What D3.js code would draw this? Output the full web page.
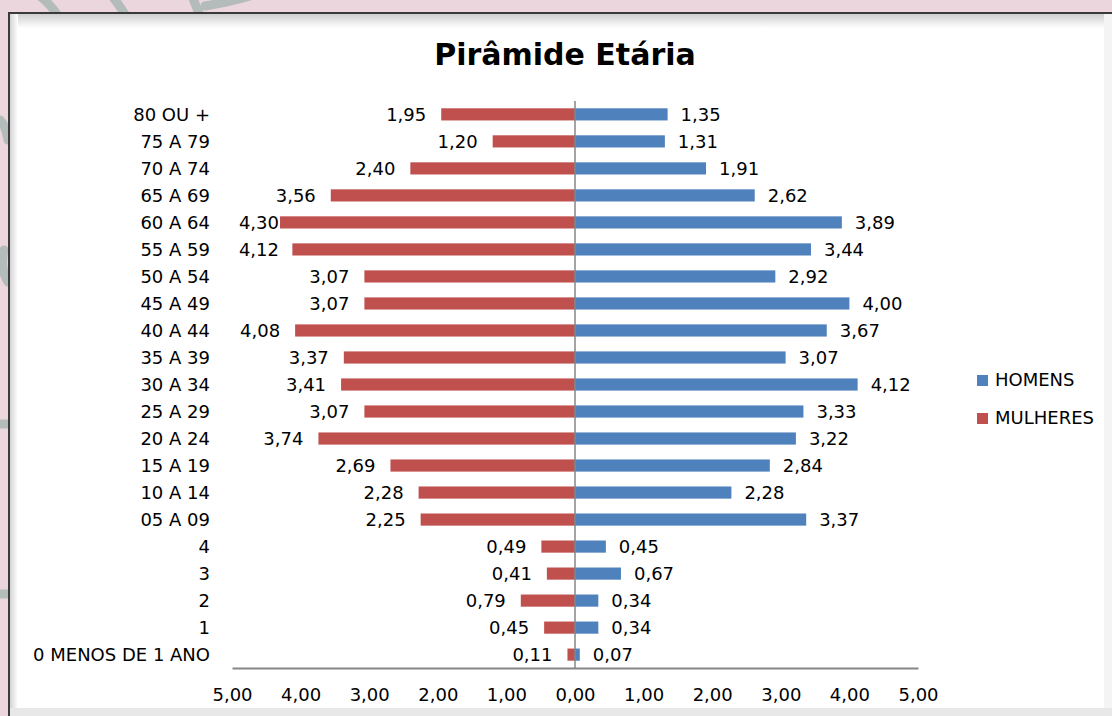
<!DOCTYPE html>
<html>
<head>
<meta charset="utf-8">
<script src="https://cdn.jsdelivr.net/npm/d3@7"></script>
<style>
  body { margin: 0; background: #ead6dc; }
  svg { display: block; }
</style>
</head>
<body>
<svg width="1112" height="716"></svg>
<script>
// faixas etarias, de cima para baixo
const CATEGORIES = ['80 OU +', '75 A 79', '70 A 74', '65 A 69', '60 A 64', '55 A 59', '50 A 54',
  '45 A 49', '40 A 44', '35 A 39', '30 A 34', '25 A 29', '20 A 24', '15 A 19', '10 A 14',
  '05 A 09', '4', '3', '2', '1', '0 MENOS DE 1 ANO'];
const MULHERES = [1.95, 1.20, 2.40, 3.56, 4.30, 4.12, 3.07, 3.07, 4.08, 3.37, 3.41, 3.07, 3.74,
  2.69, 2.28, 2.25, 0.49, 0.41, 0.79, 0.45, 0.11];
const HOMENS = [1.35, 1.31, 1.91, 2.62, 3.89, 3.44, 2.92, 4.00, 3.67, 3.07, 4.12, 3.33, 3.22,
  2.84, 2.28, 3.37, 0.45, 0.67, 0.34, 0.34, 0.07];
const X_TICKS = [-5, -4, -3, -2, -1, 0, 1, 2, 3, 4, 5];
const LEGEND = [{ name: 'HOMENS', color: '#4f81bd' }, { name: 'MULHERES', color: '#c0504d' }];

const FONT = "'DejaVu Sans', sans-serif";
const fmt = v => Math.abs(v).toFixed(2).replace('.', ',');

const svg = d3.select('svg');

// fundo decorativo (tracos cinza)
const deco = svg.append('g').attr('fill', 'none').attr('stroke', '#b4bbbb').attr('stroke-width', 9).attr('stroke-linecap', 'round');
deco.append('path').attr('d', 'M40,-4 Q52,6 58,16');
deco.append('path').attr('d', 'M112,-4 Q120,6 126,16');
deco.append('path').attr('d', 'M192,-4 Q196,6 200,16');
deco.append('path').attr('d', 'M205,6 Q230,2 250,-4');
deco.append('path').attr('d', 'M0,120 Q6,126 8,140');
deco.append('path').attr('d', 'M4,250 Q0,270 8,282');
deco.append('path').attr('d', 'M0,424 L8,424');
deco.append('path').attr('d', 'M0,594 L8,594');

// painel branco com borda
const defs = svg.append('defs');
const grad = defs.append('linearGradient').attr('id', 'topShade').attr('x1', 0).attr('y1', 0).attr('x2', 0).attr('y2', 1);
grad.append('stop').attr('offset', 0).attr('stop-color', '#cfcfcf');
grad.append('stop').attr('offset', 1).attr('stop-color', '#ffffff');
const gradL = defs.append('linearGradient').attr('id', 'leftShade').attr('x1', 0).attr('y1', 0).attr('x2', 1).attr('y2', 0);
gradL.append('stop').attr('offset', 0).attr('stop-color', '#d4d4d4');
gradL.append('stop').attr('offset', 1).attr('stop-color', '#ffffff');
svg.append('rect').attr('x', 8).attr('y', 12).attr('width', 1104).attr('height', 704).attr('fill', '#fff');
svg.append('rect').attr('x', 8).attr('y', 14).attr('width', 1104).attr('height', 14).attr('fill', 'url(#topShade)');
svg.append('rect').attr('x', 10).attr('y', 14).attr('width', 8).attr('height', 702).attr('fill', 'url(#leftShade)');
svg.append('rect').attr('x', 1104).attr('y', 14).attr('width', 8).attr('height', 702).attr('fill', '#f4f4f4');
svg.append('rect').attr('x', 8).attr('y', 708).attr('width', 1104).attr('height', 8).attr('fill', '#e8e8e8');
svg.append('line').attr('x1', 8).attr('x2', 1112).attr('y1', 13).attr('y2', 13).attr('stroke', '#3a3a3a').attr('stroke-width', 2);
svg.append('line').attr('x1', 9).attr('x2', 9).attr('y1', 12).attr('y2', 716).attr('stroke', '#3a3a3a').attr('stroke-width', 2);

// titulo
svg.append('text')
  .attr('x', 565).attr('y', 65)
  .attr('text-anchor', 'middle')
  .attr('font-family', FONT).attr('font-weight', 'bold').attr('font-size', 30)
  .attr('fill', '#000')
  .text('Pirâmide Etária');

const x = d3.scaleLinear().domain([-5, 5]).range([232, 918]);
const y = d3.scaleBand().domain(CATEGORIES).range([101, 668]).paddingInner(0.55).paddingOuter(0.27);
const BAR_H = y.bandwidth();

const chart = svg.append('g');

// eixo x
const xAxis = chart.append('g')
  .attr('transform', 'translate(0,668)')
  .call(d3.axisBottom(x).tickValues(X_TICKS).tickSize(0).tickPadding(20).tickFormat(fmt));
xAxis.select('.domain').attr('stroke', '#868686').attr('stroke-width', 2);
xAxis.selectAll('text').attr('font-family', FONT).attr('font-size', 18).attr('fill', '#000');

// rotulos das categorias
chart.selectAll('.cat')
  .data(CATEGORIES)
  .enter()
  .append('text')
  .classed('cat', true)
  .attr('x', 210)
  .attr('y', d => y(d) + BAR_H / 2)
  .attr('dy', '0.35em')
  .attr('text-anchor', 'end')
  .attr('font-family', FONT).attr('font-size', 18).attr('fill', '#000')
  .text(d => d);

// barras mulheres
chart.selectAll('.bar-m')
  .data(MULHERES)
  .enter()
  .append('rect')
  .classed('bar-m', true)
  .attr('x', d => x(-d))
  .attr('y', (d, i) => y(CATEGORIES[i]))
  .attr('width', d => x(0) - x(-d))
  .attr('height', BAR_H)
  .attr('fill', '#c0504d');

// barras homens
chart.selectAll('.bar-h')
  .data(HOMENS)
  .enter()
  .append('rect')
  .classed('bar-h', true)
  .attr('x', x(0))
  .attr('y', (d, i) => y(CATEGORIES[i]))
  .attr('width', d => x(d) - x(0))
  .attr('height', BAR_H)
  .attr('fill', '#4f81bd');

// linha do zero
chart.append('line')
  .attr('x1', x(0)).attr('x2', x(0))
  .attr('y1', 101).attr('y2', 668)
  .attr('stroke', '#868686').attr('stroke-width', 1.5);

// rotulos de valor
chart.selectAll('.lab-m')
  .data(MULHERES)
  .enter()
  .append('text')
  .classed('lab-m', true)
  .attr('x', d => Math.max(x(-d) - 15, 279))
  .attr('y', (d, i) => y(CATEGORIES[i]) + BAR_H / 2)
  .attr('dy', '0.35em')
  .attr('text-anchor', 'end')
  .attr('font-family', FONT).attr('font-size', 18).attr('fill', '#000')
  .text(fmt);

chart.selectAll('.lab-h')
  .data(HOMENS)
  .enter()
  .append('text')
  .classed('lab-h', true)
  .attr('x', d => x(d) + 13)
  .attr('y', (d, i) => y(CATEGORIES[i]) + BAR_H / 2)
  .attr('dy', '0.35em')
  .attr('text-anchor', 'start')
  .attr('font-family', FONT).attr('font-size', 18).attr('fill', '#000')
  .text(fmt);

// legenda
const legend = svg.selectAll('.legend')
  .data(LEGEND)
  .enter()
  .append('g')
  .classed('legend', true)
  .attr('transform', (d, i) => `translate(977,${380 + i * 38})`);
legend.append('rect').attr('x', 0).attr('y', -5).attr('width', 11).attr('height', 11).attr('fill', d => d.color);
legend.append('text')
  .attr('x', 18).attr('y', 0).attr('dy', '0.35em')
  .attr('font-family', FONT).attr('font-size', 18).attr('fill', '#000')
  .text(d => d.name);
</script>
</body>
</html>
